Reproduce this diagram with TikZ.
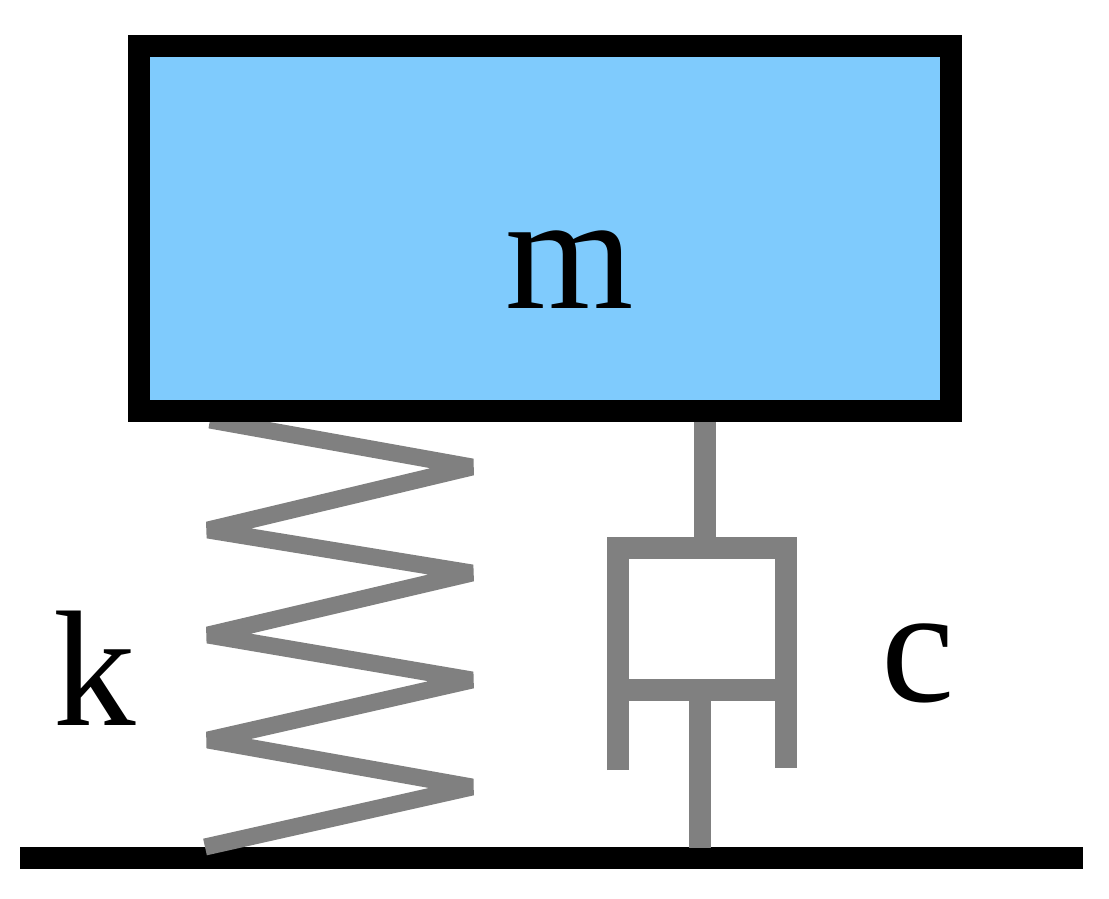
\documentclass[tikz,border=0pt]{standalone}
\usepackage{fontspec}
\setmainfont{Liberation Serif}
\tikzset{every path/.style={line width=22pt}, grey/.style={draw=gray,line join=miter}}
\definecolor{massblue}{HTML}{7FCBFD}
\begin{document}
\begin{tikzpicture}[x=1pt,y=-1pt]
  \useasboundingbox (0,0) rectangle (1109,898);
  % ground
  \draw[black] (20,858) -- (1083,858);
  % spring
  \draw[grey,line width=17pt,line join=bevel] (210,420) -- (472,467) -- (208,530) -- (472,573) -- (208,635) -- (472,680) -- (208,740) -- (472,787) -- (205,847);
  % damper
  \draw[grey] (705,422) -- (705,548);
  \draw[grey] (618,770) -- (618,548) -- (786,548) -- (786,768);
  \draw[grey] (618,690) -- (786,690);
  \draw[grey] (700,690) -- (700,848);
  % mass
  \draw[black,fill=massblue] (139,46) rectangle (951,411);
  \node[inner sep=0pt] (mass) at (570,270) {\fontsize{165}{165}\selectfont m};
  \node[inner sep=0pt] (k) at (95,668) {\fontsize{165}{165}\selectfont k};
  \node[inner sep=0pt] (c) at (918,663) {\fontsize{165}{165}\selectfont c};
\end{tikzpicture}
\end{document}
